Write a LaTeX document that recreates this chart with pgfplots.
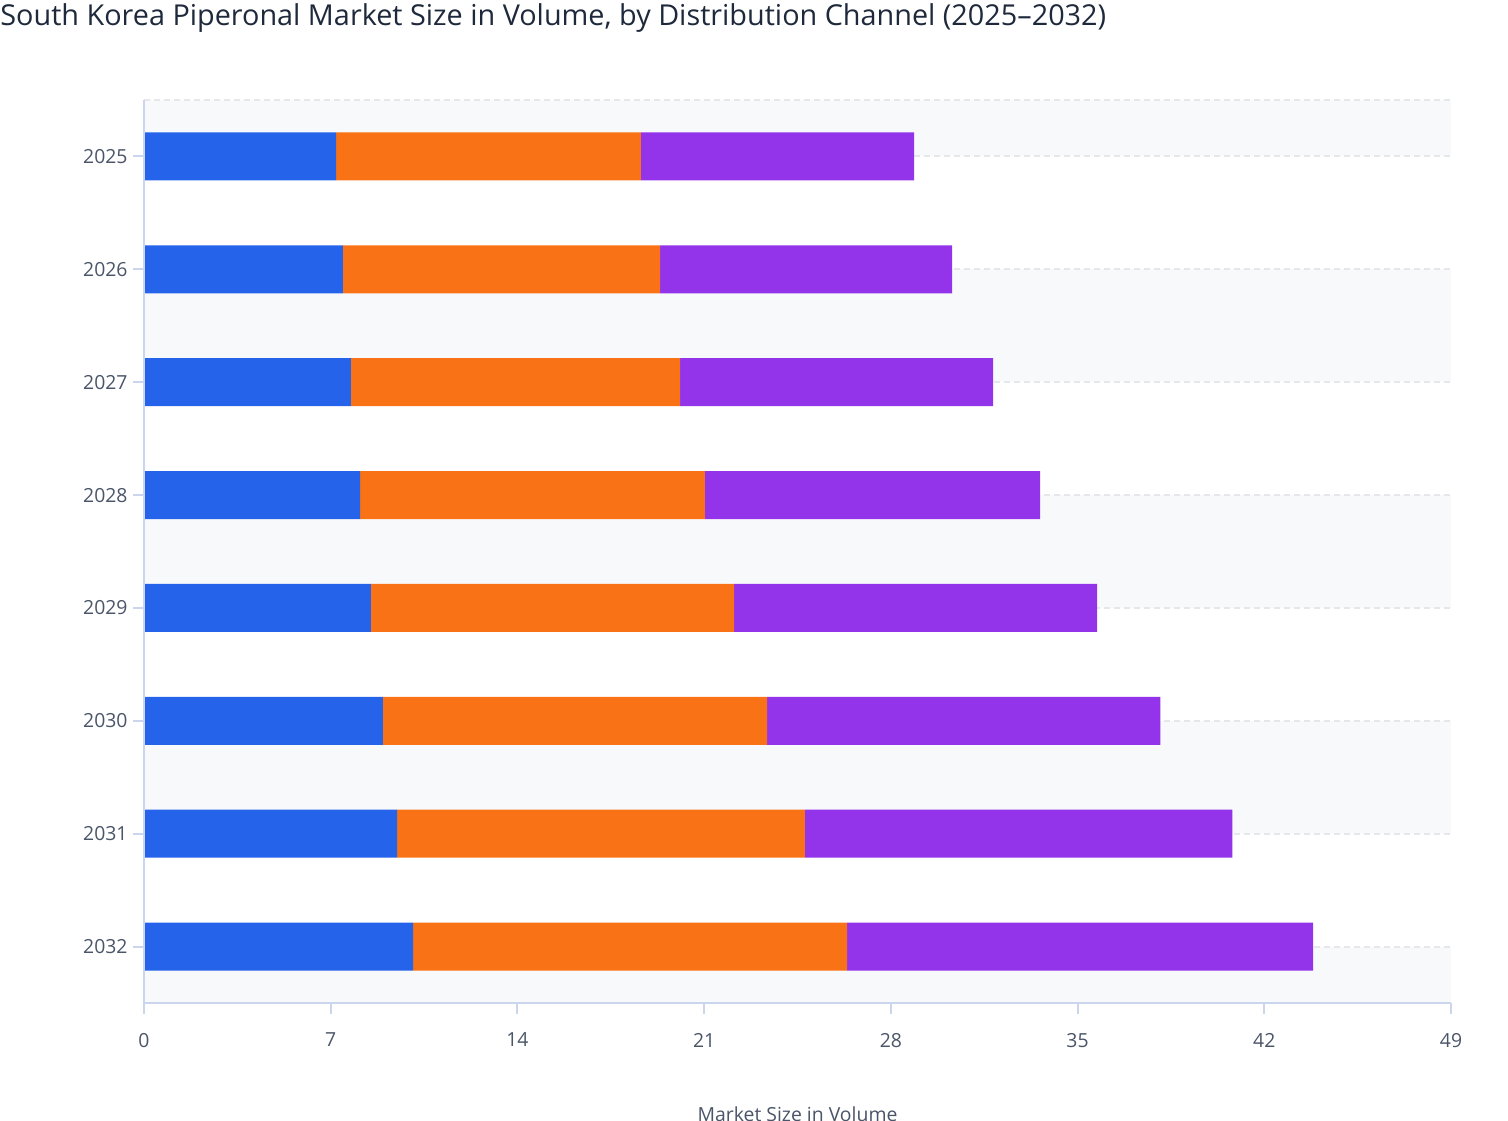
\documentclass[border=0pt]{standalone}
\usepackage{fontspec}
\setmainfont{Open Sans}
\usepackage{pgfplots}
\pgfplotsset{compat=1.18}
\definecolor{cblue}{HTML}{2563EB}
\definecolor{corange}{HTML}{F97316}
\definecolor{cpurple}{HTML}{9333EA}
\definecolor{band}{HTML}{F8F9FB}
\definecolor{gridc}{HTML}{E5E7EB}
\definecolor{axc}{HTML}{CCD5EE}
\definecolor{tickc}{HTML}{4A5568}
\definecolor{titlec}{HTML}{1E293B}
\begin{document}
\begin{tikzpicture}
\useasboundingbox (0pt,0pt) rectangle (754pt,560pt);
\node[anchor=west,inner sep=0pt,text=titlec,font=\fontsize{14.4}{17}\selectfont] at (0pt,551pt) {South Korea Piperonal Market Size in Volume, by Distribution Channel (2025–2032)};
% background bands and grid
\begin{axis}[
  at={(72pt,58.5pt)}, anchor=south west,
  width=653.5pt, height=451.5pt, scale only axis,
  xmin=0, xmax=49, ymin=-0.5, ymax=7.5,
  hide axis, clip=false,
]
\fill[band] (axis cs:0,-0.5) rectangle (axis cs:49,0);
\fill[band] (axis cs:0,1) rectangle (axis cs:49,2);
\fill[band] (axis cs:0,3) rectangle (axis cs:49,4);
\fill[band] (axis cs:0,5) rectangle (axis cs:49,6);
\fill[band] (axis cs:0,7) rectangle (axis cs:49,7.5);
\foreach \yy in {7.5,0,1,2,3,4,5,6,7} {
  \edef\tmp{\noexpand\draw[gridc,line width=1pt,dash pattern=on 3pt off 2pt] (axis cs:0,\yy) -- (axis cs:49,\yy);}\tmp
}
\end{axis}
\begin{axis}[
  at={(72pt,58.5pt)}, anchor=south west,
  width=653.5pt, height=451.5pt, scale only axis,
  xbar stacked,
  bar width=0.425,
  xmin=0, xmax=49,
  ymin=-0.5, ymax=7.5,
  xtick={0,7,14,21,28,35,42,49},
  ytick={0,1,2,3,4,5,6,7},
  yticklabels={2032,2031,2030,2029,2028,2027,2026,2025},
  axis x line*=bottom, axis y line*=left,
  axis line style={axc,line width=1pt,-},
  axis on top,
  major tick length=5.5pt,
  tick align=outside,
  tick style={axc,line width=1pt},
  ticklabel style={text=tickc,font=\fontsize{9.7}{11}\selectfont},
  /pgf/number format/assume math mode=true,
  xticklabel style={yshift=-6pt},
  yticklabel style={xshift=0.8pt},
  clip=false,
]
% y = 7 - (year - 2025)
\addplot[fill=cblue,draw=none] coordinates {(7.2,7) (7.46,6) (7.76,5) (8.1,4) (8.51,3) (8.96,2) (9.49,1) (10.09,0)};
\addplot[fill=corange,draw=none] coordinates {(11.43,7) (11.89,6) (12.34,5) (12.93,4) (13.61,3) (14.40,2) (15.29,1) (16.27,0)};
\addplot[fill=cpurple,draw=none] coordinates {(10.24,7) (10.95,6) (11.73,5) (12.57,4) (13.61,3) (14.74,2) (16.02,1) (17.47,0)};
\end{axis}
\node[anchor=north,inner sep=0pt,text=tickc,font=\fontsize{9.7}{11}\selectfont] at (398.75pt,7pt) {Market Size in Volume};
\end{tikzpicture}
\end{document}
